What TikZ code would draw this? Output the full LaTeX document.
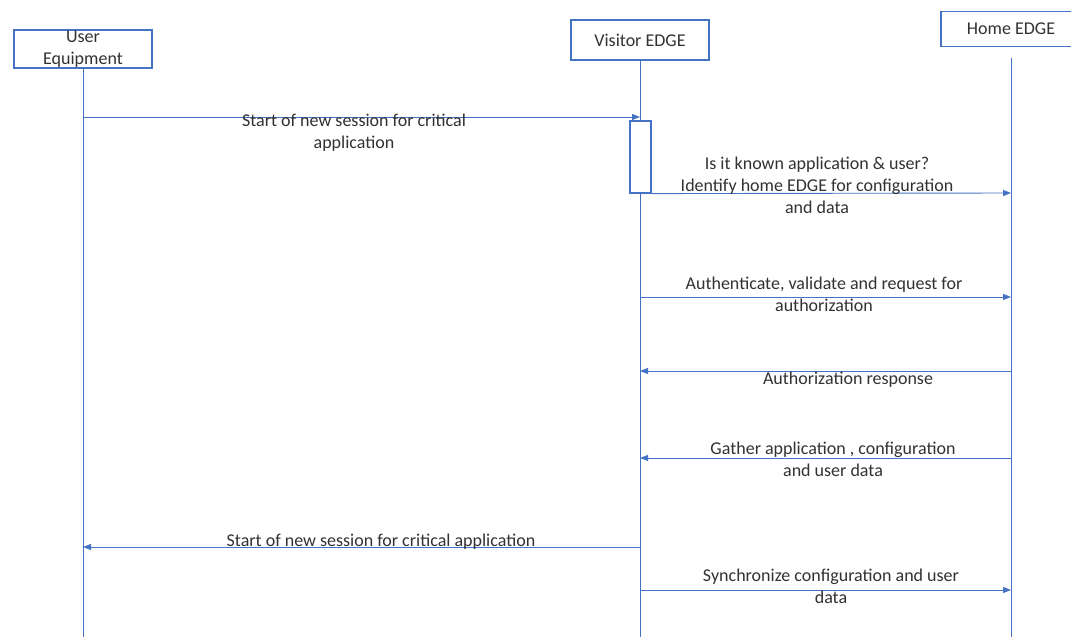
\documentclass[tikz,border=0pt]{standalone}
\usepackage{fontspec}
\setmainfont{Carlito}
\usetikzlibrary{arrows.meta}
\definecolor{lineblue}{RGB}{68,114,196}
\definecolor{txtgray}{RGB}{50,50,50}

\begin{document}
\begin{tikzpicture}[
    x=1pt,y=-1pt,
    every node/.style={font=\fontsize{18}{22}\selectfont,text=txtgray},
    head/.style={draw=lineblue,line width=1.2pt,minimum width=138,minimum height=38,
                 inner sep=0pt,align=center},
    life/.style={draw=lineblue,line width=1pt},
    msg/.style={draw=lineblue,line width=0.9pt,-{Triangle[length=8pt,width=6pt]}},
    lbl/.style={align=center,inner sep=0pt},
  ]
    \useasboundingbox[fill=white] (0,0) rectangle (1071,637);
    % participants
    \node[head] (ue) at (83,49) {User\\Equipment};
    \node[head,minimum height=40] (ve) at (640,40) {Visitor EDGE};
    \node[head,minimum width=140,minimum height=35] (he) at (1011,29) {Home EDGE};
    \coordinate (he top) at (1011,58);
    \coordinate (ue end) at (83,637);
    \coordinate (ve end) at (640,637);
    \coordinate (he end) at (1011,637);
    \draw[life] (ue) -- (ue end);
    \draw[life] (ve) -- (ve end);
    \draw[life] (he top) -- (he end);
    \node[draw=lineblue,line width=1.2pt,fill=white,minimum width=21,minimum height=72,
          inner sep=0pt] (act) at (640.5,157) {};
    % message heights
    \coordinate (m1) at (0,117);
    \coordinate (m2) at (0,193);
    \coordinate (m3) at (0,297);
    \coordinate (m4) at (0,371);
    \coordinate (m5) at (0,458);
    \coordinate (m6) at (0,547);
    \coordinate (m7) at (0,590);
    % messages
    \draw[msg] (ue |- m1) -- (ve |- m1);
    \draw[msg] (act.south east) -- (he |- m2);
    \draw[msg] (ve |- m3) -- (he |- m3);
    \draw[msg] (he |- m4) -- (ve |- m4);
    \draw[msg] (he |- m5) -- (ve |- m5);
    \draw[msg] (ve |- m6) -- (ue |- m6);
    \draw[msg] (ve |- m7) -- (he |- m7);
    % labels
    \node[lbl] (t1) at (354,133) {Start of new session for critical\\application};
    \node[lbl] (t2) at (817,185) {Is it known application \& user?\\Identify home EDGE for configuration\\and data};
    \node[lbl] (t3) at (824,294.5) {Authenticate, validate and request for\\authorization};
    \node[lbl] (t4) at (848,380) {Authorization response};
    \node[lbl] (t5) at (833,459.5) {Gather application , configuration\\and user data};
    \node[lbl] (t6) at (381,542) {Start of new session for critical application};
    \node[lbl] (t7) at (831,586.5) {Synchronize configuration and user\\data};
\end{tikzpicture}
\end{document}
